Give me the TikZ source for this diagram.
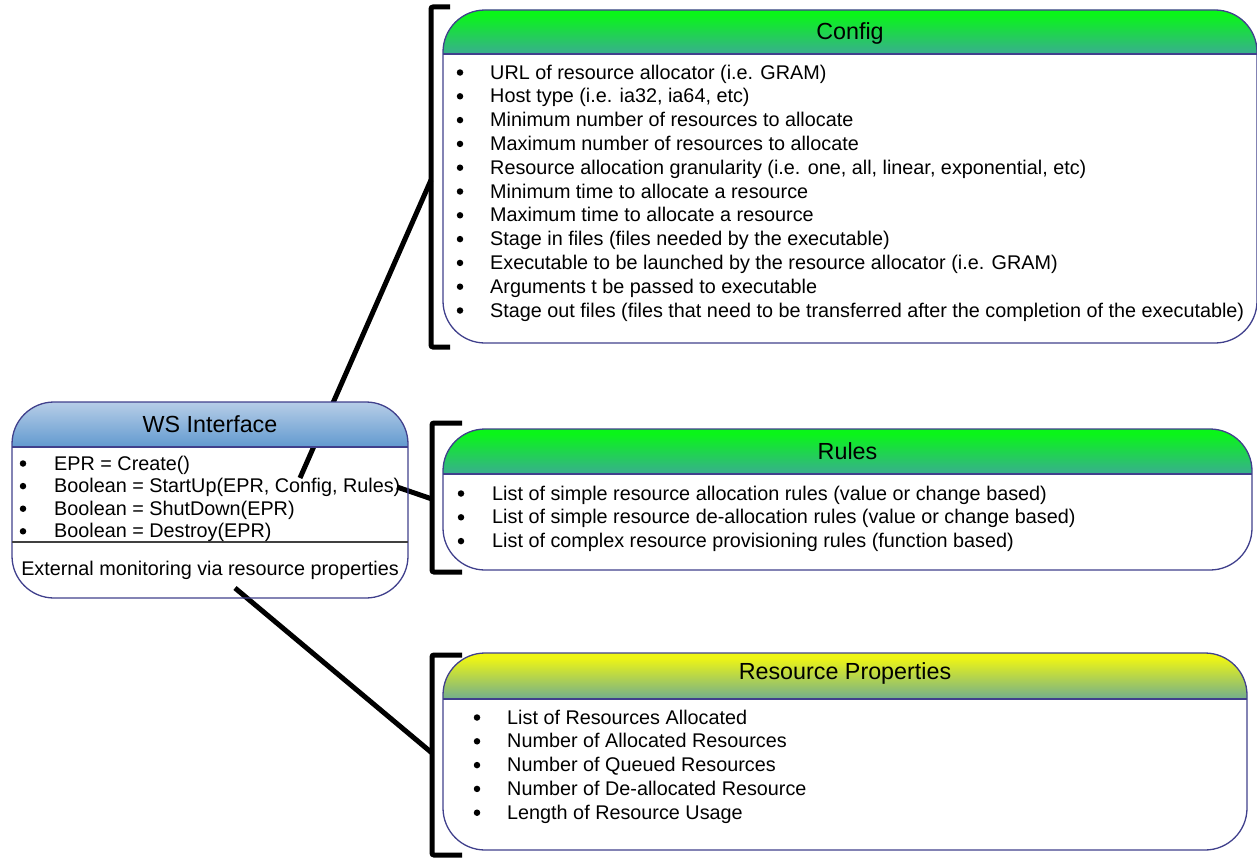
\documentclass[tikz,border=0pt]{standalone}
\usepackage{fontspec}
\setmainfont{Liberation Sans}
\usetikzlibrary{backgrounds}
\definecolor{bordercol}{RGB}{64,64,140}
\definecolor{hdgreen}{RGB}{10,245,25}
\definecolor{hdblue}{RGB}{72,150,182}
\definecolor{hdyellow}{RGB}{238,245,20}
\definecolor{wstop}{RGB}{200,216,236}
\definecolor{wsbot}{RGB}{72,138,200}
\pgfdeclareverticalshading{greenshade}{100bp}{color(0bp)=(hdblue); color(10bp)=(hdblue); color(70bp)=(hdgreen); color(100bp)=(hdgreen)}
\pgfdeclareverticalshading{yellowshade}{100bp}{color(0bp)=(hdblue); color(10bp)=(hdblue); color(70bp)=(hdyellow); color(100bp)=(hdyellow)}
\pgfdeclareverticalshading{wsshade}{100bp}{color(0bp)=(wsbot); color(10bp)=(wsbot); color(85bp)=(wstop); color(100bp)=(wstop)}
\begin{document}
\begin{tikzpicture}[x=1pt,y=-1pt,
  box/.style={draw=bordercol, line width=1.3pt, rounded corners=42pt, inner sep=0pt, outer sep=0pt, anchor=north west},
  sep/.style={draw=bordercol, line width=2pt},
  body/.style={font=\fontsize{19.8}{23.8}\selectfont, anchor=base west, inner sep=0pt},
  bul/.style={circle, fill=black, inner sep=0pt, minimum size=6.5pt},
  head/.style={font=\fontsize{23.3}{27}\selectfont, anchor=base, inner sep=0pt},
  bracket/.style={line width=5pt, rounded corners=2pt},
  conn/.style={line width=5pt}
]
\useasboundingbox (0,0) rectangle (1257,859);

% ---------- header shadings ----------
\begin{scope}
  \clip[rounded corners=42pt] (443,10) rectangle (1257,343);
  \shade[shading=greenshade] (443,10) rectangle (1257,54);
\end{scope}
\begin{scope}
  \clip[rounded corners=42pt] (443,429) rectangle (1252,570);
  \shade[shading=greenshade] (443,429) rectangle (1252,474);
\end{scope}
\begin{scope}
  \clip[rounded corners=42pt] (443,653) rectangle (1247,850);
  \shade[shading=yellowshade] (443,653) rectangle (1247,699);
\end{scope}
\begin{scope}
  \clip[rounded corners=42pt] (12,402) rectangle (408,598);
  \shade[shading=wsshade] (12,402) rectangle (408,447);
\end{scope}

% ---------- boxes ----------
\node[box, minimum width=814pt, minimum height=333pt] (config) at (443,10) {};
\node[box, minimum width=809pt, minimum height=141pt] (rules) at (443,429) {};
\node[box, minimum width=804pt, minimum height=197pt] (resprops) at (443,653) {};
\node[box, minimum width=396pt, minimum height=196pt] (ws) at (12,402) {};
\draw[sep] (config.west |- 0,54) -- (config.east |- 0,54);
\draw[sep] (rules.west |- 0,474) -- (rules.east |- 0,474);
\draw[sep] (resprops.west |- 0,699) -- (resprops.east |- 0,699);
\draw[sep] (ws.west |- 0,447) -- (ws.east |- 0,447);
\draw[black!75, line width=1.2pt] (ws.west |- 0,542) -- (ws.east |- 0,542);

% ---------- headers ----------
\node[head] (configT) at (850,40) {Config};
\node[head] (rulesT) at (847.5,459) {Rules};
\node[head] (respropsT) at (845,679) {Resource Properties};
\node[head] (wsT) at (210,432) {WS Interface};

% ---------- lists ----------
\foreach \t [count=\i] in {
  {URL of resource allocator (i.e. GRAM)},
  {Host type (i.e. ia32, ia64, etc)},
  {Minimum number of resources to allocate},
  {Maximum number of resources to allocate},
  {Resource allocation granularity (i.e. one, all, linear, exponential, etc)},
  {Minimum time to allocate a resource},
  {Maximum time to allocate a resource},
  {Stage in files (files needed by the executable)},
  {Executable to be launched by the resource allocator (i.e. GRAM)},
  {Arguments t be passed to executable},
  {Stage out files (files that need to be transferred after the completion of the executable)}}{
  \node[bul] (cfgb-\i) at (460,{72.5+(\i-1)*23.8}) {};
  \node[body] (cfg-\i) at (490,{79+(\i-1)*23.8}) {\t};
}
\foreach \t [count=\i] in {
  {List of simple resource allocation rules (value or change based)},
  {List of simple resource de-allocation rules (value or change based)},
  {List of complex resource provisioning rules (function based)}}{
  \node[bul] (rulb-\i) at (461,{493.5+(\i-1)*23.8}) {};
  \node[body] (rul-\i) at (492,{500+(\i-1)*23.8}) {\t};
}
\foreach \t [count=\i] in {
  {List of Resources Allocated},
  {Number of Allocated Resources},
  {Number of Queued Resources},
  {Number of De-allocated Resource},
  {Length of Resource Usage}}{
  \node[bul] (resb-\i) at (477,{717.5+(\i-1)*23.8}) {};
  \node[body] (res-\i) at (507,{724+(\i-1)*23.8}) {\t};
}
\foreach \t [count=\i] in {
  {EPR = Create()},
  {Boolean = StartUp(EPR, Config, Rules)},
  {Boolean = ShutDown(EPR)},
  {Boolean = Destroy(EPR)}}{
  \node[bul] (wsb-\i) at (23,{463.5+(\i-1)*22.6}) {};
  \node[body] (wsl-\i) at (54,{470+(\i-1)*22.6}) {\t};
}
\node[body, anchor=base] (wsExt) at (210,575) {External monitoring via resource properties};

% ---------- brackets ----------
\draw[bracket] (450,7) -- (431,7) -- (431,347) -- (450,347);
\draw[bracket] (462,423) -- (432,423) -- (432,572) -- (462,572);
\draw[bracket] (462,655) -- (432,655) -- (432,855) -- (462,855);
\coordinate (brConfig) at (431,180);
\coordinate (brRules) at (432,499);
\coordinate (brRes) at (432,753);
\coordinate (wsConfig) at (300,478);
\coordinate (wsRules) at (397,487);
\coordinate (wsRes) at (235,588);

% ---------- connectors (behind the headers) ----------
\begin{pgfonlayer}{background}
\draw[conn] (wsConfig) -- (brConfig);
\draw[conn] (wsRules) -- (brRules);
\draw[conn] (wsRes) -- (brRes);
\end{pgfonlayer}
\end{tikzpicture}
\end{document}
